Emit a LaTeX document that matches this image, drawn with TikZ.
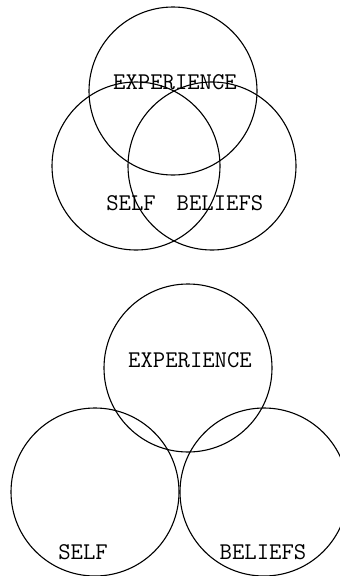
\documentclass[tikz,border=0pt]{standalone}
\usepackage{fontspec}
\usepackage{tikz}
\usetikzlibrary{positioning}

\tikzset{
  ring/.style={draw, circle, line width=1.1pt, minimum size=168pt, inner sep=0pt},
  word/.style={font=\ttfamily\fontsize{24}{24}\selectfont, anchor=base, inner sep=0pt}
}

\begin{document}
\begin{tikzpicture}[x=1pt, y=-1pt]
% Frame of the picture
\useasboundingbox (0,0) rectangle (340,576);
\clip (0,0) rectangle (340,576);

% Upper diagram: overlapping circles
\node[ring] (expA) at (173,91) {};
\node[ring] (selfA) at (136,166) {};
\node[ring] (belA) at (212,166) {};

% Labels for upper diagram
\node[word] (expAtext) at (175,89) {EXPERIENCE};
\node[word] (selfAtext) at (131,210) {SELF};
\node[word] (belAtext) at (220,210) {BELIEFS};

% Lower diagram: circles barely touching
\node[ring] (expB) at (188,368) {};
\node[ring] (selfB) at (95,492) {};
\node[ring] (belB) at (264,492) {};

% Labels for lower diagram
\node[word] (expBtext) at (190,367) {EXPERIENCE};
\node[word] (selfBtext) at (83,559) {SELF};
\node[word] (belBtext) at (263,559) {BELIEFS};
\end{tikzpicture}
\end{document}
